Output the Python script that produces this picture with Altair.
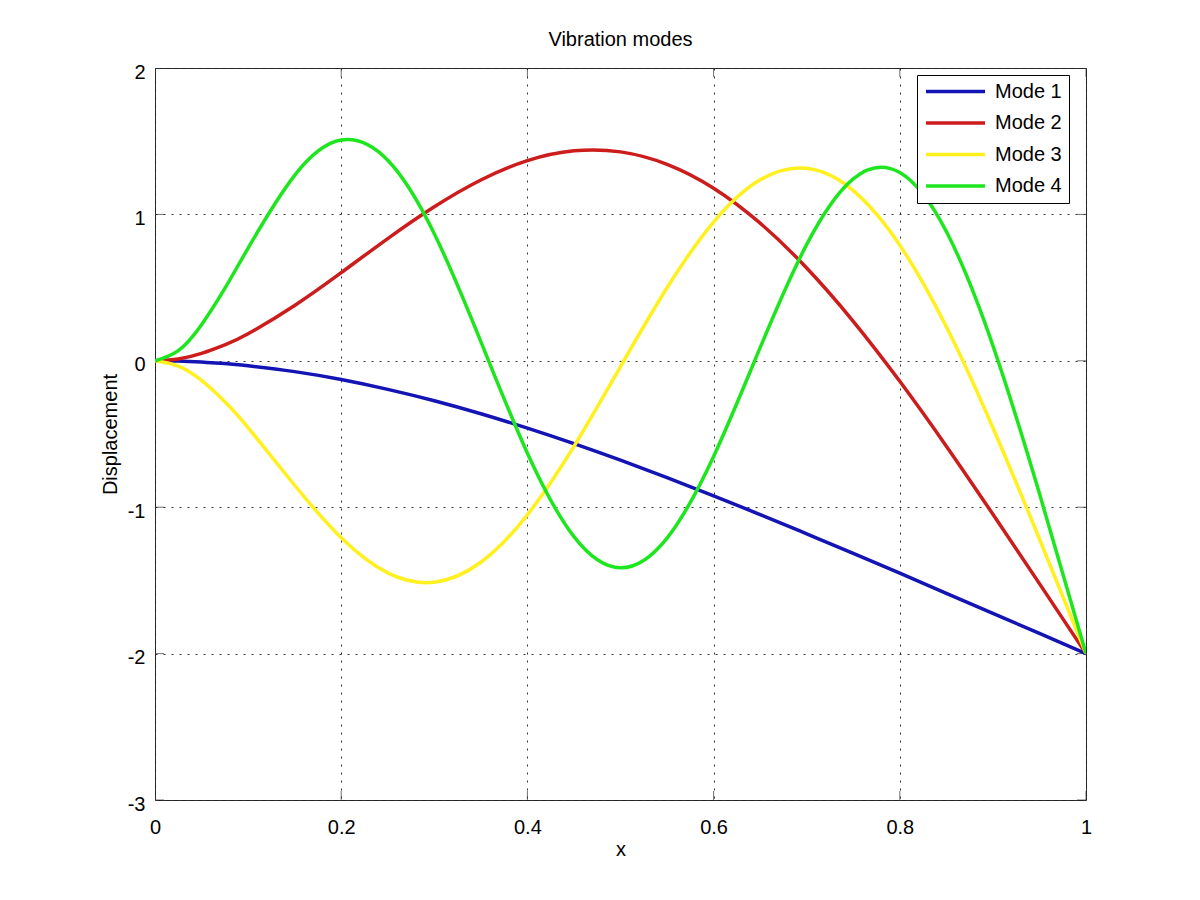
import altair as alt
import pandas as pd

X = [0.000, 0.025, 0.050, 0.075, 0.10, 0.15, 0.20, 0.25, 0.30, 0.35, 0.40, 0.45, 0.50,
     0.55, 0.60, 0.65, 0.70, 0.75, 0.80, 0.85, 0.90, 0.95, 1.00]

MODE1 = [0.000, -0.002, -0.009, -0.019, -0.034, -0.074, -0.128, -0.195, -0.273, -0.362, -0.460, -0.566, -0.679,
         -0.798, -0.922, -1.050, -1.182, -1.315, -1.451, -1.588, -1.725, -1.862, -2.000]
MODE2 = [0.000, 0.013, 0.051, 0.109, 0.185, 0.378, 0.602, 0.835, 1.052, 1.235, 1.367, 1.434, 1.427,
         1.342, 1.179, 0.940, 0.634, 0.270, -0.140, -0.583, -1.048, -1.522, -2.000]
MODE3 = [0.000, -0.036, -0.134, -0.279, -0.456, -0.850, -1.209, -1.449, -1.512, -1.376, -1.052, -0.584, -0.039,
         0.499, 0.948, 1.236, 1.315, 1.163, 0.790, 0.232, -0.457, -1.217, -2.000]
MODE4 = [0.000, 0.069, 0.247, 0.494, 0.770, 1.267, 1.508, 1.370, 0.868, 0.131, -0.631, -1.201, -1.414,
         -1.211, -0.653, 0.090, 0.795, 1.243, 1.286, 0.883, 0.104, -0.907, -2.000]

SERIES = ["Mode 1", "Mode 2", "Mode 3", "Mode 4"]
COLORS = ["#1414b4", "#cc1c1c", "#fff01e", "#1ee61e"]

XTICKS = [0, 0.2, 0.4, 0.6, 0.8, 1]
YTICKS = [-3, -2, -1, 0, 1, 2]
XDOM = [0, 1]
YDOM = [-3, 2]

FONT = "Liberation Sans"
FS = 20

rows = []
for name, vals in zip(SERIES, [MODE1, MODE2, MODE3, MODE4]):
    for xv, yv in zip(X, vals):
        rows.append({"x": xv, "y": yv, "mode": name})
df = pd.DataFrame(rows)

vt = pd.DataFrame([{"x": xt, "y": yb} for xt in XTICKS for yb in YDOM])
ht = pd.DataFrame([{"x": xb, "y": yt} for yt in YTICKS for xb in XDOM])

xenc = alt.X(
    "x:Q",
    scale=alt.Scale(domain=XDOM, nice=False, zero=False),
    axis=alt.Axis(
        values=XTICKS, title="x", grid=True, ticks=False, tickSize=0, domain=False,
        labelExpr="'' + datum.value", labelPadding=17, labelFlush=False,
        titleX=465.5, titleY=55, titleBaseline="alphabetic", titleAlign="center",
    ),
)
yenc = alt.Y(
    "y:Q",
    scale=alt.Scale(domain=YDOM, nice=False, zero=False),
    axis=alt.Axis(
        values=YTICKS, title="Displacement", grid=True, ticks=False, tickSize=0, domain=False,
        labelExpr="'' + datum.value", labelPadding=10, labelOffset=4, labelFlush=False,
        titleAngle=270, titleX=-39, titleY=366, titleBaseline="alphabetic", titleAlign="center",
    ),
)

lines = alt.Chart(df).mark_line(interpolate="natural", strokeWidth=3.5, clip=True).encode(
    x=xenc,
    y=yenc,
    color=alt.Color(
        "mode:N",
        scale=alt.Scale(domain=SERIES, range=COLORS),
        legend=alt.Legend(
            title=None, orient="none", legendX=762, legendY=7,
            symbolType="stroke", symbolSize=3481, symbolStrokeWidth=3.5,
            clipHeight=19, rowPadding=10.5, padding=7, labelOffset=8,
            labelFont=FONT, labelFontSize=20, labelColor="#000",
            strokeColor="#000", fillColor="#ffffff", labelLimit=300,
        ),
    ),
    order=alt.Order("x:Q"),
)

vticks = alt.Chart(vt).mark_tick(orient="vertical", size=18, thickness=1, color="#333333", clip=True).encode(
    x=xenc, y=yenc
)
hticks = alt.Chart(ht).mark_tick(orient="horizontal", size=18, thickness=1, color="#333333", clip=True).encode(
    x=xenc, y=yenc
)

chart = (
    alt.layer(vticks, hticks, lines)
    .properties(
        width=931,
        height=732,
        autosize=alt.AutoSizeParams(type="none"),
        padding={"left": 147, "top": 60, "right": 106, "bottom": 84},
        background="white",
        title=alt.TitleParams(
            "Vibration modes", font=FONT, fontSize=FS, fontWeight="normal", color="#000",
            anchor="middle", frame="group", offset=21, dy=25, baseline="alphabetic",
        ),
    )
    .configure_view(stroke="#222222", strokeWidth=1)
    .configure_axis(
        labelFont=FONT, labelFontSize=FS, labelColor="#000",
        titleFont=FONT, titleFontSize=FS, titleFontWeight="normal", titleColor="#000",
        gridColor="#333333", gridDash=[2, 6], gridWidth=1, gridOpacity=1,
    )
)

chart.save("out.html", embed_options={"renderer": "svg", "actions": False})
